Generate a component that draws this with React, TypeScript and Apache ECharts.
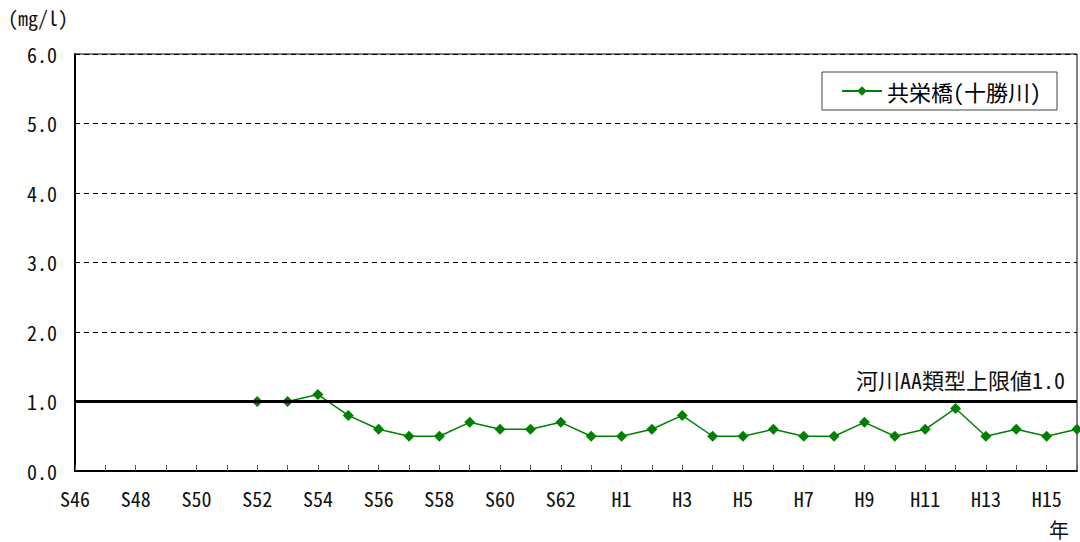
import React, { useEffect, useRef } from "react";
import * as echarts from "echarts";

const categories: string[] = [
  "S46", "S47", "S48", "S49", "S50", "S51", "S52", "S53", "S54", "S55", "S56", "S57",
  "S58", "S59", "S60", "S61", "S62", "S63", "H1", "H2", "H3", "H4", "H5", "H6",
  "H7", "H8", "H9", "H10", "H11", "H12", "H13", "H14", "H15", "H16",
];

const seriesName = "共栄橋(十勝川)";
const values: (number | null)[] = [
  null, null, null, null, null, null, 1.0, 1.0, 1.1, 0.8, 0.6, 0.5,
  0.5, 0.7, 0.6, 0.6, 0.7, 0.5, 0.5, 0.6, 0.8, 0.5, 0.5, 0.6,
  0.5, 0.5, 0.7, 0.5, 0.6, 0.9, 0.5, 0.6, 0.5, 0.6,
];

const standardValue = 1.0;
const standardLabel = "河川AA類型上限値1.0";
const yTicks = [0, 1, 2, 3, 4, 5, 6];
const unitLabel = "(mg/l)";
const xUnitLabel = "年";

const FONT = "'Noto Sans Mono CJK JP', 'Noto Sans CJK JP', 'DejaVu Sans Mono', monospace";

export default function App() {
  const ref = useRef<HTMLDivElement>(null);
  useEffect(() => {
    if (!ref.current) return;
    const chart = echarts.init(ref.current, undefined, { renderer: "svg" });
    chart.setOption({
      animation: false,
      backgroundColor: "#ffffff",
      textStyle: { fontFamily: FONT },
      grid: {
        left: 75,
        right: 3,
        top: 54,
        bottom: 71,
        show: true,
        borderColor: "#000",
        borderWidth: 1,
        backgroundColor: "transparent",
      },
      legend: {
        right: 23,
        top: 72,
        padding: [8, 16, 8, 19],
        borderColor: "#444",
        borderWidth: 1,
        backgroundColor: "#fff",
        itemWidth: 40,
        itemHeight: 12,
        itemGap: 5,
        textStyle: { fontFamily: FONT, fontSize: 22, color: "#000" },
        data: [{ name: seriesName }],
      },
      xAxis: {
        type: "category",
        data: categories,
        boundaryGap: false,
        axisLine: { show: true, lineStyle: { color: "#000", width: 2 } },
        axisTick: {
          show: true,
          inside: true,
          length: 6,
          interval: 0,
          lineStyle: { color: "#555", width: 1 },
        },
        axisLabel: {
          interval: 1,
          margin: 17,
          fontFamily: FONT,
          fontSize: 20,
          color: "#111",
        },
        splitLine: { show: false },
      },
      yAxis: {
        type: "value",
        min: 0,
        max: 6,
        interval: 1,
        axisLine: { show: true, lineStyle: { color: "#000", width: 2 } },
        axisTick: { show: false },
        axisLabel: {
          margin: 18,
          fontFamily: FONT,
          fontSize: 20,
          color: "#111",
          formatter: (v: number) => (yTicks.includes(v) ? v.toFixed(1) : ""),
        },
        splitLine: {
          show: true,
          lineStyle: { color: "#000", type: [5, 4], width: 1 },
        },
      },
      series: [
        {
          name: seriesName,
          type: "line",
          data: values,
          connectNulls: false,
          symbol: "diamond",
          symbolSize: 11,
          itemStyle: { color: "#008000" },
          lineStyle: { color: "#008000", width: 1.5 },
          markLine: {
            silent: true,
            symbol: "none",
            lineStyle: { color: "#000", width: 3, type: "solid" },
            label: {
              show: true,
              position: "insideEndTop",
              formatter: standardLabel,
              fontFamily: FONT,
              fontSize: 22,
              color: "#111",
              distance: [12, 12],
            },
            data: [{ yAxis: standardValue }],
          },
        },
      ],
      graphic: [
        {
          type: "text",
          left: 8,
          top: 7,
          style: { text: unitLabel, font: `20px ${FONT}`, fill: "#111" },
        },
        {
          type: "text",
          left: 1049,
          top: 519,
          style: { text: xUnitLabel, font: `20px ${FONT}`, fill: "#111" },
        },
      ],
    });
    return () => chart.dispose();
  }, []);
  return <div ref={ref} style={{ width: 1080, height: 542, position: "absolute", left: 0, top: 0 }} />;
}
